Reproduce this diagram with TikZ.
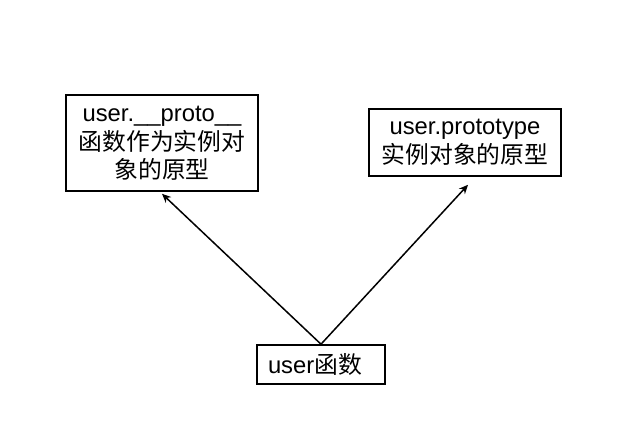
\documentclass[tikz,border=0pt]{standalone}
\usepackage{fontspec}
\setmainfont{Liberation Sans}
\newfontfamily\cjk{Noto Sans CJK SC}
\usetikzlibrary{arrows.meta}
\begin{document}
\begin{tikzpicture}[x=1pt,y=-1pt,
  box/.style={draw=black,line width=1.6pt,inner sep=0pt,font=\fontsize{23.8}{28}\selectfont,align=center},
  conn/.style={line width=1.5pt,-{Stealth[length=9pt,width=8pt,inset=3pt]}}]
\useasboundingbox (0,0) rectangle (623,441);
\node[box,minimum width=192pt,minimum height=96pt] (l) at (162,143)
  {user.\_\_proto\_\_\\[1pt]{\cjk 函数作为实例对}\\{\cjk 象的原型}};
\node[box,minimum width=192pt,minimum height=67pt] (r) at (465,142.5)
  {user.prototype\\[1pt]{\cjk 实例对象的原型}};
\node[box,minimum height=39pt,text width=106pt,inner xsep=11pt,inner ysep=0pt,align=left] (b) at (321,364.5)
  {user{\cjk 函数}};
\draw[conn] (b.north) -- ([yshift=-2pt]l.south);
\draw[conn] (b.north) -- ([xshift=3pt,yshift=-8pt]r.south);
\end{tikzpicture}
\end{document}
